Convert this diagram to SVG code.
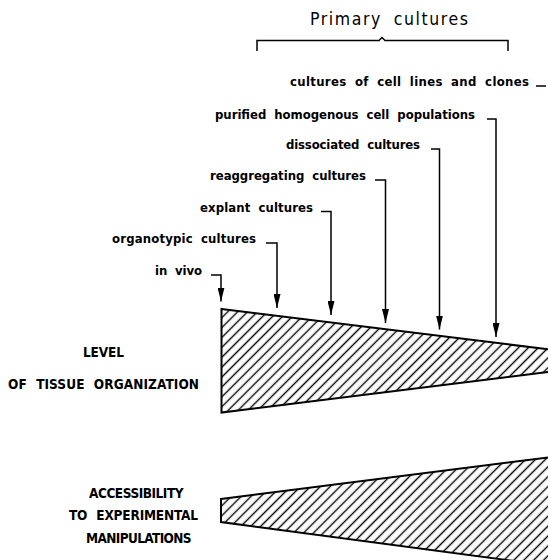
<svg xmlns="http://www.w3.org/2000/svg" width="548" height="560" viewBox="0 0 548 560">
  <style>
    .lbl { font-family: "DejaVu Sans Condensed", "DejaVu Sans", sans-serif; font-stretch: condensed; font-weight: bold; font-size: 13px; fill: #000; word-spacing: 4px; }
    .cap { font-family: "DejaVu Sans Condensed", "DejaVu Sans", sans-serif; font-stretch: condensed; font-weight: bold; font-size: 13.5px; fill: #000; word-spacing: 5px; }
    .title { font-family: "DejaVu Sans Condensed", "DejaVu Sans", sans-serif; font-stretch: condensed; font-size: 17.5px; fill: #000; word-spacing: 5px; }
    .wire { fill: none; stroke: #000; stroke-width: 1.5; }
    .wedge { fill: url(#hatch); stroke: #000; stroke-width: 2; stroke-linejoin: miter; }
  </style>
  <defs>
    <pattern id="hatch" patternUnits="userSpaceOnUse" width="7" height="7" patternTransform="rotate(45)">
      <rect width="7" height="7" fill="#fff"/>
      <line x1="3.5" y1="-1" x2="3.5" y2="8" stroke="#000" stroke-width="1.4"/>
    </pattern>
    <marker id="arrow" viewBox="0 0 14 7" refX="14" refY="3.5" markerWidth="14" markerHeight="7" markerUnits="userSpaceOnUse" orient="auto">
      <path d="M0,0 L14,3.5 L0,7 Z" fill="#000"/>
    </marker>
  </defs>

  <rect width="548" height="560" fill="#fff"/>

  <!-- heading with bracket over the primary culture types -->
  <g id="primary-cultures">
    <text class="title" x="310" y="25" textLength="158">Primary cultures</text>
    <path class="wire" d="M257,51 V40.5 H379 L382,37.5 L385,40.5 H508 V51"/>
  </g>

  <!-- culture system labels -->
  <g id="cell-lines">
    <text class="lbl" x="290" y="86" textLength="239">cultures of cell lines and clones</text>
  </g>
  <g id="purified">
    <text class="lbl" x="215" y="119" textLength="260">purified homogenous cell populations</text>
  </g>
  <g id="dissociated">
    <text class="lbl" x="286" y="149" textLength="134">dissociated cultures</text>
  </g>
  <g id="reaggregating">
    <text class="lbl" x="210" y="180" textLength="156">reaggregating cultures</text>
  </g>
  <g id="explant">
    <text class="lbl" x="200" y="211.5" textLength="113">explant cultures</text>
  </g>
  <g id="organotypic">
    <text class="lbl" x="112" y="243" textLength="144">organotypic cultures</text>
  </g>
  <g id="in-vivo">
    <text class="lbl" x="155" y="275" textLength="47">in vivo</text>
  </g>

  <!-- wedge: level of tissue organization -->
  <g id="tissue-organization">
    <text class="cap" x="83" y="356.5" textLength="41">LEVEL</text>
    <text class="cap" x="8" y="389" textLength="191">OF TISSUE ORGANIZATION</text>
    <polygon class="wedge" points="221.5,309 552,349.8 552,371.6 221.5,412.5"/>
  </g>

  <!-- wedge: accessibility to experimental manipulations -->
  <g id="accessibility">
    <text class="cap" x="89" y="497.5" textLength="94.5">ACCESSIBILITY</text>
    <text class="cap" x="69" y="519.5" textLength="129">TO EXPERIMENTAL</text>
    <text class="cap" x="86" y="543" textLength="105.5">MANIPULATIONS</text>
    <polygon class="wedge" points="221,499 552,457 552,566 221,522"/>
  </g>

  <!-- connectors from labels down to the wedge -->
  <g id="connectors">
    <path class="wire" d="M536,86 H546"/>
    <path class="wire" d="M487,119 H496 V337" marker-end="url(#arrow)"/>
    <path class="wire" d="M431,149 H439.5 V329.5" marker-end="url(#arrow)"/>
    <path class="wire" d="M375,180 H385.5 V323" marker-end="url(#arrow)"/>
    <path class="wire" d="M321,211.5 H331 V315" marker-end="url(#arrow)"/>
    <path class="wire" d="M266,243 H277 V308" marker-end="url(#arrow)"/>
    <path class="wire" d="M211,275 H221 V301.5" marker-end="url(#arrow)"/>
  </g>
</svg>
